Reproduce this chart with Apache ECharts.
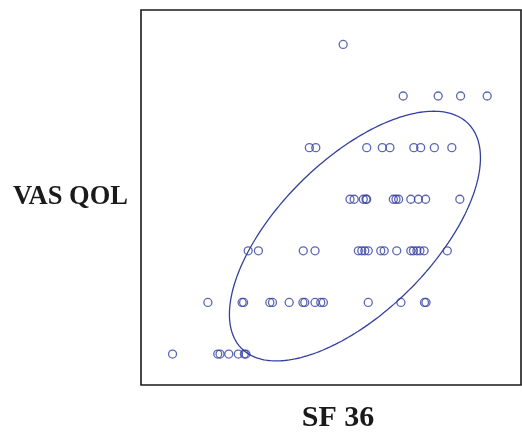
<!DOCTYPE html>
<html>
<head>
<meta charset="utf-8">
<script src="https://cdn.jsdelivr.net/npm/echarts@6/dist/echarts.min.js"></script>
<style>html,body{margin:0;padding:0;background:#fff;}#c{width:522px;height:438px;}</style>
</head>
<body>
<div id="c"></div>
<script>
// VAS QOL levels (y) and the SF 36 scores (x) observed at each level
const level1 = [8.3, 20.2, 20.8, 23.1, 25.6, 27.2, 27.6];
const level2 = [17.6, 26.6, 27.0, 33.9, 34.6, 39.0, 42.6, 43.1, 45.8, 47.3, 48.0, 59.8, 68.4, 74.6, 75.0];
const level3 = [28.2, 30.9, 42.7, 45.8, 57.2, 58.1, 58.9, 59.8, 63.1, 64.0, 67.3, 71.0, 71.7, 72.6, 73.4, 74.5, 80.6];
const level4 = [55.0, 56.1, 58.5, 59.2, 59.4, 66.4, 67.1, 67.8, 71.0, 73.0, 74.9, 83.9];
const level5 = [44.3, 46.0, 59.4, 63.5, 65.5, 71.8, 73.6, 77.2, 81.8];
const level6 = [69.0, 78.2, 84.1, 91.1];
const level7 = [53.2];
const levels = [1, 2, 3, 4, 5, 6, 7];

// Ellipse parameters (centre, half-extents, correlation)
const ellCx = 56.3, ellCy = 3.286, ellHx = 33.03, ellHy = 2.419, ellR = 0.627;

const groups = [level1, level2, level3, level4, level5, level6, level7];
const points = [];
groups.forEach((g, i) => g.forEach(x => points.push([x, levels[i]])));

const ellipse = [];
const N = 240;
for (let k = 0; k <= N; k++) {
  const t = 2 * Math.PI * k / N;
  ellipse.push([
    ellCx + ellHx * Math.cos(t),
    ellCy + ellHy * (ellR * Math.cos(t) + Math.sqrt(1 - ellR * ellR) * Math.sin(t))
  ]);
}

const color = '#3440a0';
const chart = echarts.init(document.getElementById('c'));
chart.setOption({
  animation: false,
  grid: { left: 141, right: 1, top: 10, bottom: 46.5, show: true, borderColor: '#1a1a1a', borderWidth: 1.6, containLabel: false },
  xAxis: {
    type: 'value', min: 0, max: 100,
    name: 'SF 36', nameLocation: 'middle', nameGap: 18,
    nameTextStyle: { fontFamily: 'Liberation Serif', fontWeight: 'bold', fontSize: 30, color: '#1a1a1a', padding: [0, 0, 0, 14] },
    axisLine: { show: false }, axisTick: { show: false }, axisLabel: { show: false }, splitLine: { show: false }
  },
  yAxis: {
    type: 'value', min: 0.4, max: 7.667,
    name: 'VAS QOL', nameLocation: 'middle', nameRotate: 0, nameGap: 13,
    nameTextStyle: { fontFamily: 'Liberation Serif', fontWeight: 'bold', fontSize: 26.5, color: '#1a1a1a', align: 'right', verticalAlign: 'middle' },
    axisLine: { show: false }, axisTick: { show: false }, axisLabel: { show: false }, splitLine: { show: false }
  },
  series: [
    {
      type: 'scatter', data: points, symbol: 'circle', symbolSize: 8,
      itemStyle: { color: 'rgba(0,0,0,0)', borderColor: color, borderWidth: 1.3 }
    },
    {
      type: 'line', data: ellipse, showSymbol: false, smooth: false,
      lineStyle: { color: color, width: 1.3 }
    }
  ]
});
</script>
</body>
</html>
